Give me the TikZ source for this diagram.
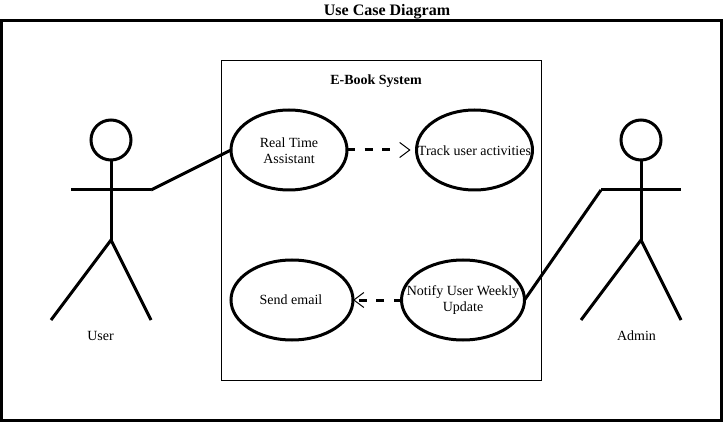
\documentclass[tikz,border=0pt]{standalone}
\usepackage{fontspec}
\setmainfont{Liberation Serif}
\usetikzlibrary{shapes.geometric,arrows.meta}
\tikzset{
  usecase/.style={ellipse,draw=black,line width=3pt,fill=white,inner sep=0pt,outer sep=0pt},
  caption/.style={font=\fontsize{14}{16}\selectfont,align=center,inner sep=0pt},
  boxlabel/.style={font=\fontsize{14}{16}\selectfont\bfseries,inner sep=0pt},
  limb/.style={line width=3pt,line cap=butt},
  assoc/.style={line width=3pt},
  depend/.style={line width=3pt,dash pattern=on 8pt off 9.5pt},
  barb/.style={-{Straight Barb[line width=1pt,length=10pt,width=15pt]}},
  tiponly/.style={line width=1pt,dash pattern=on 0pt off 300pt,barb}
}
\begin{document}
\begin{tikzpicture}[x=1pt,y=-1pt]
\useasboundingbox (0,0) rectangle (723,422);
\node[draw=black,line width=3pt,minimum width=720pt,minimum height=400pt,outer sep=0pt,inner sep=0pt] (frame) at (361.5,220.5) {};
\node[font=\fontsize{16}{18}\selectfont\bfseries,inner sep=0pt] (title) at (387,11.5) {Use Case Diagram};
\node[draw=black,line width=1pt,minimum width=320pt,minimum height=320pt,outer sep=0pt,inner sep=0pt] (system) at (381.5,220.5) {};
\node[boxlabel] (systemlabel) at (376,81) {E-Book System};

\node[usecase,minimum width=116pt,minimum height=80pt,label={[caption,yshift=-0.5pt]center:{Real Time\\Assistant}}] (rta) at (289,150) {};
\node[usecase,minimum width=116pt,minimum height=80pt,label={[caption,yshift=-0.5pt]center:{Track user activities}}] (track) at (474.5,150) {};
\node[usecase,minimum width=122pt,minimum height=80pt,label={[caption,xshift=-1pt]center:{Send email}}] (send) at (292,300) {};
\node[usecase,minimum width=123pt,minimum height=80pt,label={[caption,yshift=-0.5pt]center:{Notify User Weekly\\Update}}] (notify) at (463,300) {};

% User actor
\node[circle,draw=black,line width=3pt,minimum size=40pt,inner sep=0pt,outer sep=0pt] (uhead) at (111,140) {};
\coordinate (uhip) at (111,240);
\coordinate (uarml) at (71,190);
\coordinate (uarmr) at (151,190);
\coordinate (ulegl) at (51,320);
\coordinate (ulegr) at (151,320);
\draw[limb] (uhead.south) -- (uhip);
\draw[limb] (uarml) -- (uarmr);
\draw[limb] (ulegl) -- (uhip) -- (ulegr);
\node[caption] (userlabel) at (100.5,335.5) {User};

% Admin actor
\node[circle,draw=black,line width=3pt,minimum size=40pt,inner sep=0pt,outer sep=0pt] (ahead) at (641,140) {};
\coordinate (ahip) at (641,240);
\coordinate (aarml) at (601,190);
\coordinate (aarmr) at (681,190);
\coordinate (alegl) at (581,320);
\coordinate (alegr) at (681,320);
\draw[limb] (ahead.south) -- (ahip);
\draw[limb] (aarml) -- (aarmr);
\draw[limb] (alegl) -- (ahip) -- (alegr);
\node[caption] (adminlabel) at (636.5,335.5) {Admin};

% Connectors
\draw[assoc] (uarmr) -- (rta.west);
\draw[assoc] (aarml) -- (notify.east);
\draw[depend,shorten >=24pt] (rta.east) -- (track.west);
\draw[tiponly,shorten >=6pt] (rta.east) -- (track.west);
\draw[depend] (notify.west) -- (send.east);
\draw[tiponly] (notify.west) -- (send.east);
\end{tikzpicture}
\end{document}
